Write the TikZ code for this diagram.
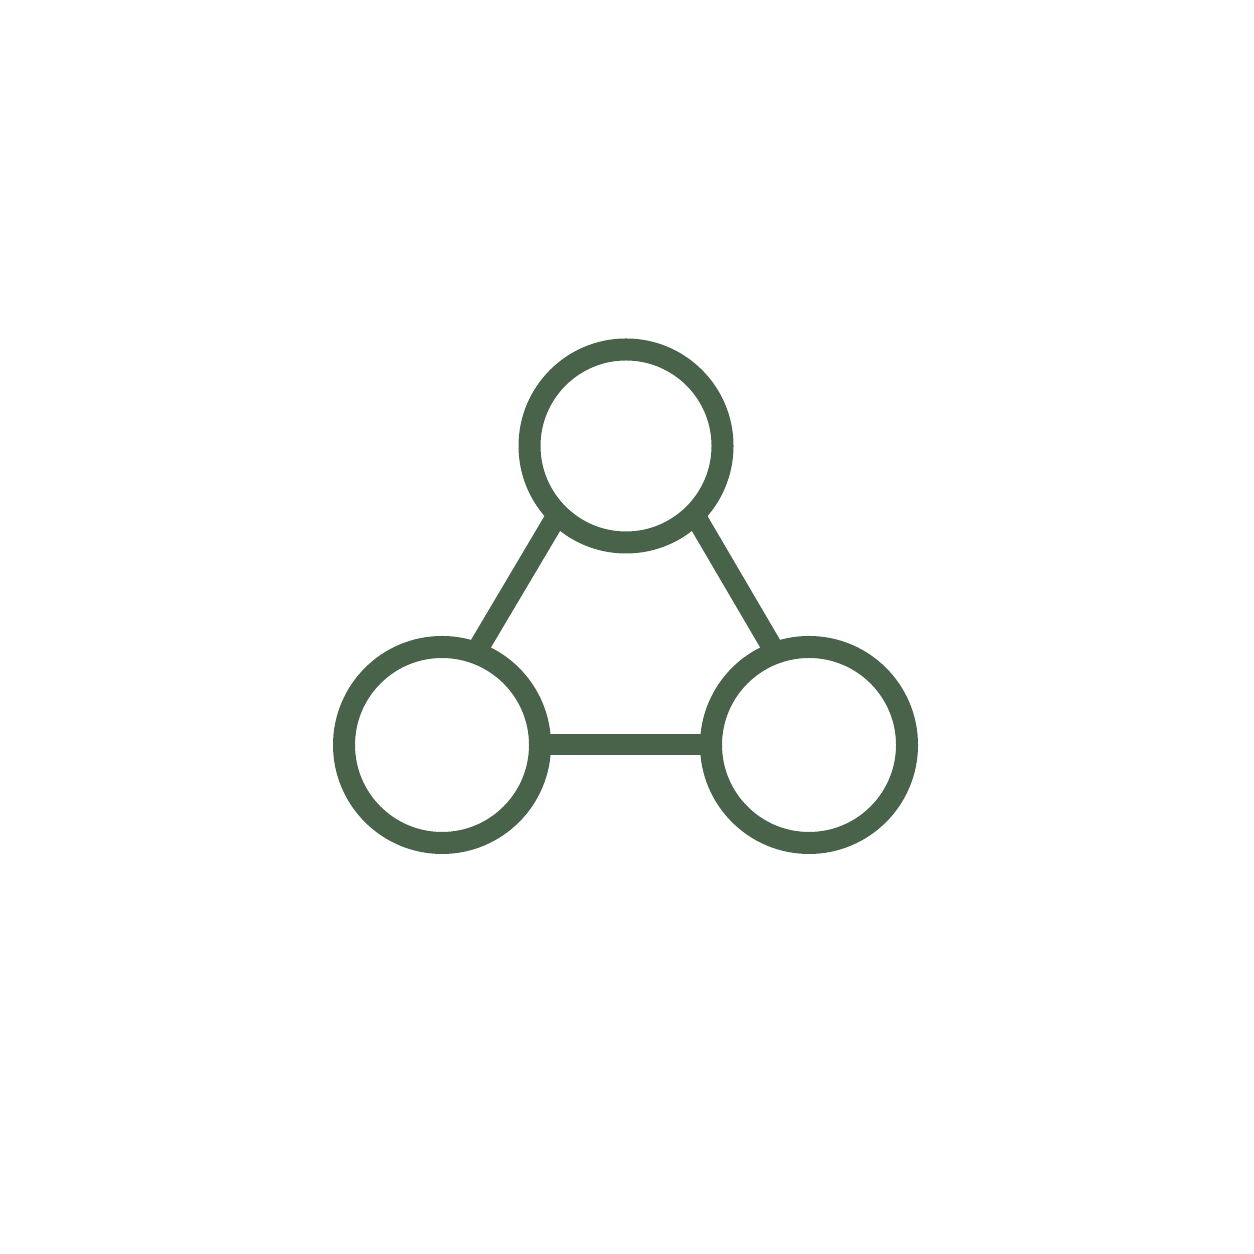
\documentclass[tikz,border=0pt]{standalone}
\usepackage{tikz}
\definecolor{leafgreen}{HTML}{486349}

\begin{document}
\begin{tikzpicture}[
  vertex/.style={draw, circle, line width=0.22cm, color=leafgreen,
       minimum size=1.96cm, inner sep=0cm, outer sep=0cm},
  link/.style={line width=0.21cm, color=leafgreen}]

\useasboundingbox (0,0) rectangle (12.54,12.54);

\node[vertex, minimum size=1.93cm] (top) at (6.26, 8.08) {};
\node[vertex] (left) at (4.42, 5.09) {};
\node[vertex] (right) at (8.09, 5.09) {};

\draw[link] (top.225) -- (left.70);
\draw[link] (top.315) -- (right.110);
\draw[link] (left) -- (right);
\end{tikzpicture}
\end{document}
